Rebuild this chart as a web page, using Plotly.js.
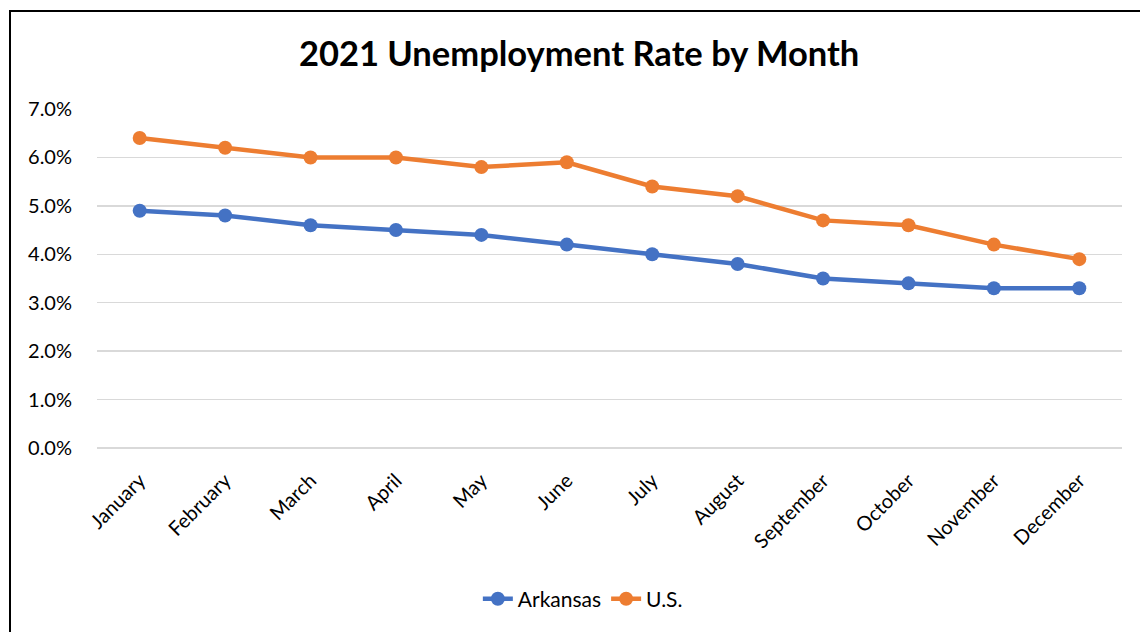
<!DOCTYPE html>
<html>
<head>
<meta charset="utf-8">
<script src="https://cdn.plot.ly/plotly-3.0.1.min.js"></script>
<style>
html,body{margin:0;padding:0;background:#fff;}
#wrap{position:relative;width:1140px;height:632px;overflow:hidden;}
#chart{position:absolute;left:0;top:0;width:1140px;height:632px;}
#frame{position:absolute;left:9px;top:10px;width:1200px;height:700px;border-left:2px solid #000;border-top:2px solid #000;pointer-events:none;}
</style>
</head>
<body>
<div id="wrap"><div id="chart"></div><div id="frame"></div></div>
<script>
const months = ["January","February","March","April","May","June","July","August","September","October","November","December"];
const arkansas = [4.9,4.8,4.6,4.5,4.4,4.2,4.0,3.8,3.5,3.4,3.3,3.3];
const us = [6.4,6.2,6.0,6.0,5.8,5.9,5.4,5.2,4.7,4.6,4.2,3.9];
const yTicks = [0,1,2,3,4,5,6,7];

const font = "Lato, 'Open Sans', sans-serif";
const traces = [
  {x: months, y: arkansas, name: "Arkansas", type: "scatter", mode: "lines+markers",
   line: {color: "#4472C4", width: 4.5}, marker: {color: "#4472C4", size: 14}, cliponaxis: false},
  {x: months, y: us, name: "U.S.", type: "scatter", mode: "lines+markers",
   line: {color: "#ED7D31", width: 4.5}, marker: {color: "#ED7D31", size: 14}, cliponaxis: false}
];
const layout = {
  width: 1140, height: 632,
  margin: {l: 97, r: 18, t: 109, b: 182},
  paper_bgcolor: "#fff", plot_bgcolor: "#fff",
  font: {family: font, size: 20, color: "#000"},
  title: {text: "<b>2021 Unemployment Rate by Month</b>", font: {family: font, size: 34.5, color: "#000"},
          x: 0.508, xanchor: "center", y: 1 - 54/632, yanchor: "middle", yref: "container"},
  xaxis: {type: "category", range: [-0.5, 11.5], tickangle: -45, showgrid: false, zeroline: false,
          showline: false, ticks: "outside", ticklen: 12, tickcolor: "rgba(0,0,0,0)", tickfont: {size: 20}},
  yaxis: {range: [0, 7], tickvals: yTicks, ticktext: yTicks.map(v => v.toFixed(1) + "%"),
          showgrid: true, gridcolor: "#d9d9d9", gridwidth: 1.5, zeroline: true, zerolinecolor: "#d9d9d9",
          zerolinewidth: 1.5, showline: false, ticks: "outside", ticklen: 20, tickcolor: "rgba(0,0,0,0)", tickfont: {size: 20}},
  showlegend: true,
  legend: {orientation: "h", x: 0.474, xanchor: "center", y: -(602-450)/341, yanchor: "middle",
           font: {size: 21}, itemwidth: 30, traceorder: "normal"},
};
Plotly.newPlot("chart", traces, layout, {displayModeBar: false, staticPlot: true});
</script>
</body>
</html>
